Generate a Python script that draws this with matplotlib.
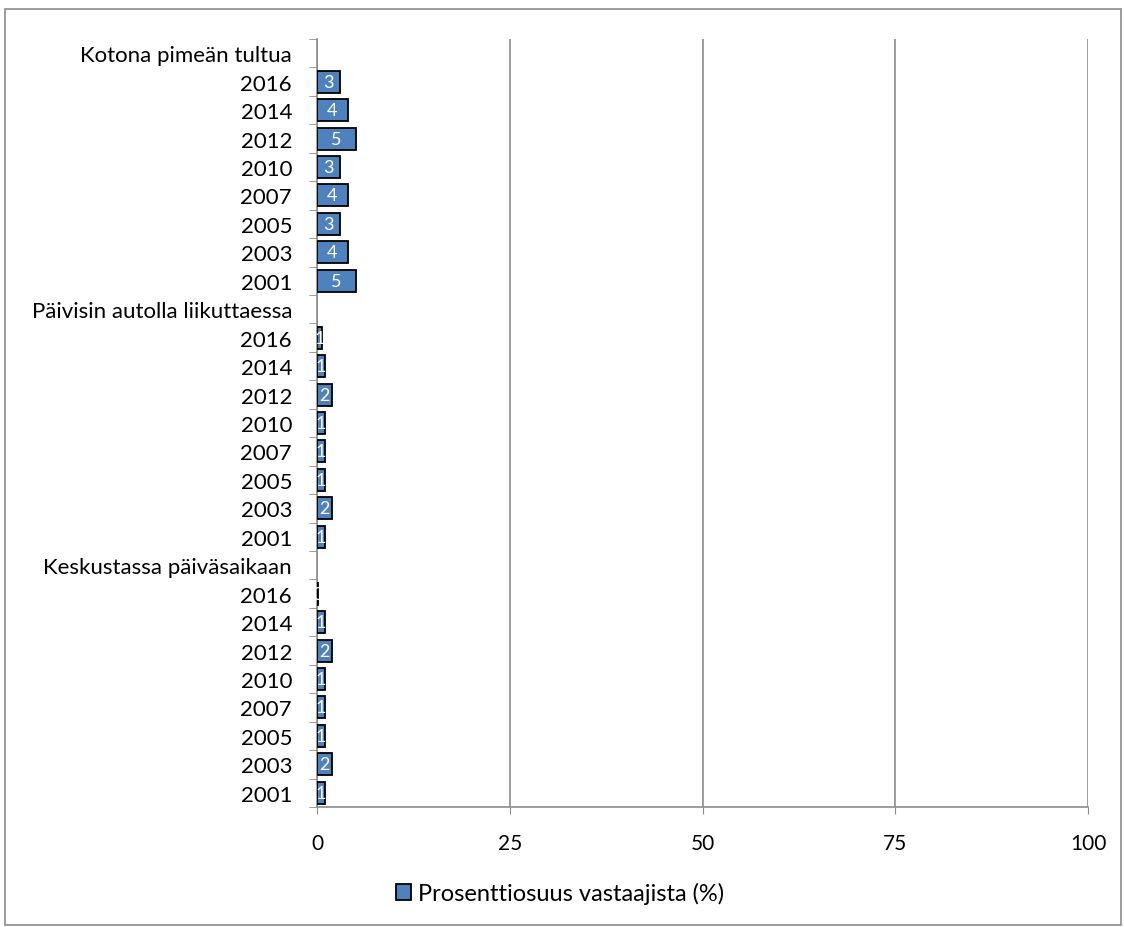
import matplotlib.pyplot as plt
import numpy as np
from matplotlib.patches import Rectangle

plt.rcParams['font.family'] = ['Lato', 'DejaVu Sans']

years = ['2016', '2014', '2012', '2010', '2007', '2005', '2003', '2001']
groups = ['Kotona pimeän tultua', 'Päivisin autolla liikuttaessa', 'Keskustassa päiväsaikaan']
kotona = [3, 4, 5, 3, 4, 3, 4, 5]
paivisin = [0.6, 1, 2, 1, 1, 1, 2, 1]
keskusta = [0.15, 1, 2, 1, 1, 1, 2, 1]
series_name = 'Prosenttiosuus vastaajista (%)'

labels = []
values = []
for g, vals in zip(groups, [kotona, paivisin, keskusta]):
    labels.append(g)
    values.append(np.nan)
    labels += years
    values += vals
values = np.array(values, dtype=float)
pos = np.arange(len(labels))

fig = plt.figure(figsize=(11.24, 9.28), dpi=100)
ax = fig.add_axes([317/1124, 1 - 808/928, (1088-317)/1124, (808-40)/928])
fig.patches.append(Rectangle((5/1124, 2/928), 1116/1124, 916/928, transform=fig.transFigure,
                             fill=False, edgecolor='#8c8c8c', linewidth=1.2))

mask = ~np.isnan(values)
ax.barh(pos[mask], values[mask], height=0.77, color='#4f81bd', edgecolor='black',
        linewidth=1.3, label=series_name, zorder=3)
for y, v in zip(pos[mask], values[mask]):
    ax.text(v / 2, y, str(int(v + 0.5)), color='white', ha='center', va='center',
            fontsize=13, zorder=4)

ax.set_xlim(0, 100)
ax.set_ylim(len(labels) - 0.5, -0.5)
ax.set_xticks([0, 25, 50, 75, 100])
ax.tick_params(axis='x', labelsize=15, colors='#8c8c8c', labelcolor='black', length=5, pad=14)
ax.set_yticks(pos)
ax.set_yticklabels(labels, fontsize=16)
ax.tick_params(axis='y', length=0, pad=18)
ax.set_yticks(np.arange(-0.5, len(labels)), minor=True)
ax.tick_params(axis='y', which='minor', length=6, color='#8c8c8c')
ax.grid(axis='x', color='#8c8c8c', linewidth=1.2, zorder=0)
for s in ['top', 'right']:
    ax.spines[s].set_visible(False)
for s in ['left', 'bottom']:
    ax.spines[s].set_color('#8c8c8c')
    ax.spines[s].set_linewidth(1.2)

ax.legend(loc='center', bbox_to_anchor=(560/1124, 1 - 894/928), bbox_transform=fig.transFigure,
          frameon=False, fontsize=17, handlelength=0.65, handleheight=0.65, handletextpad=0.3)

fig.savefig('out.png', dpi=100)
